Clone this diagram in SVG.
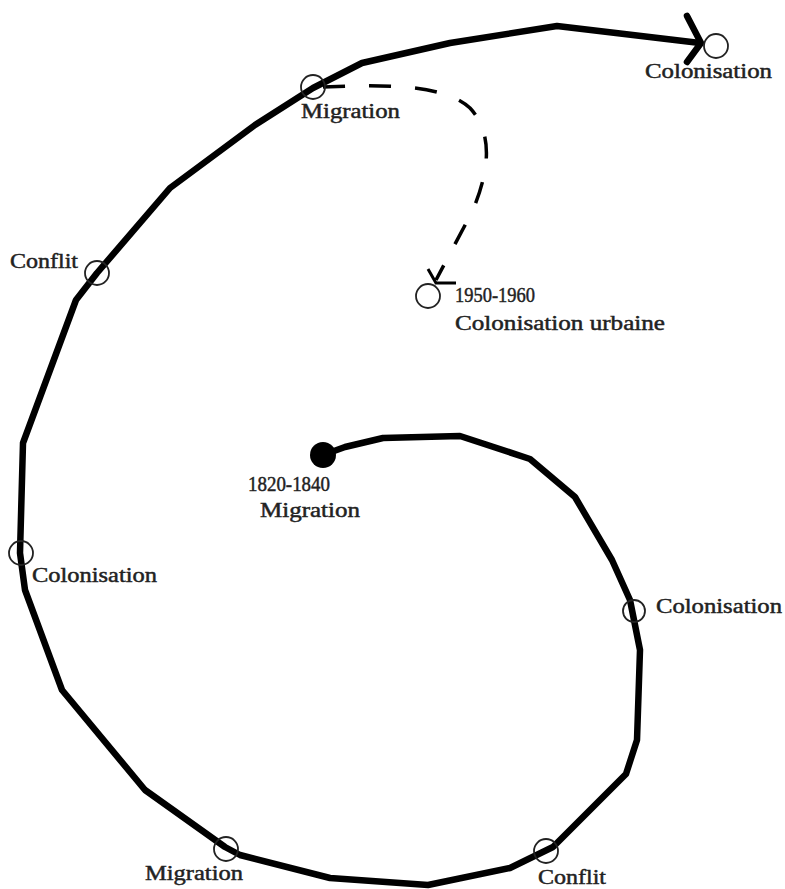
<svg xmlns="http://www.w3.org/2000/svg" width="785" height="889" viewBox="0 0 785 889">
<style>
.spiral{fill:none;stroke:#000;stroke-width:6.5;stroke-linejoin:round;stroke-linecap:round}
.dash{fill:none;stroke:#000;stroke-width:3.5;stroke-dasharray:22 24}
.ring{fill:none;stroke:#222;stroke-width:1.8}
.lbl{font-family:"Liberation Serif","Times New Roman",serif;font-size:20px;fill:#222;stroke:#222;stroke-width:0.45}
</style>
<rect width="785" height="889" fill="#fff"/>
<g id="connectors">
<path class="spiral" d="M323,455 L345,447 L383,438 L460,436 L530,459 L575,497 L612,560 L630,600 L638,640 L640,650 L637,740 L626,774 L553,847 L510,868 L428,885 L330,878 L240,855 L225,847 L145,790 L62,690 L25,590 L20,553 L23,443 L76,300 L97,273 L170,188 L255,125 L313,88 L362,63 L450,43 L557,26 L700,43"/>
<path class="spiral" d="M687,16 L701,43 L687,62"/>
<path class="dash" d="M323,87 C390,84 445,85 470,108 C495,135 488,175 472,212 L436,280"/>
<polyline fill="none" stroke="#000" stroke-width="3" points="428,269 436,283 456,283"/>
</g>
<g id="start"><circle cx="323" cy="455" r="13" fill="#000"/><text class="lbl" x="248" y="491" textLength="82" lengthAdjust="spacingAndGlyphs">1820-1840</text><text class="lbl" x="260" y="517" textLength="100" lengthAdjust="spacingAndGlyphs">Migration</text></g>
<g id="n-colonisation-right"><circle class="ring" cx="634" cy="611" r="11"/><text class="lbl" x="656" y="613" textLength="126" lengthAdjust="spacingAndGlyphs">Colonisation</text></g>
<g id="n-conflit-bottom"><circle class="ring" cx="546" cy="851" r="12"/><text class="lbl" x="538" y="884" textLength="68" lengthAdjust="spacingAndGlyphs">Conflit</text></g>
<g id="n-migration-bottom"><circle class="ring" cx="226" cy="849" r="12"/><text class="lbl" x="145" y="880" textLength="98" lengthAdjust="spacingAndGlyphs">Migration</text></g>
<g id="n-colonisation-left"><circle class="ring" cx="21" cy="553" r="12"/><text class="lbl" x="32" y="582" textLength="125" lengthAdjust="spacingAndGlyphs">Colonisation</text></g>
<g id="n-conflit-left"><circle class="ring" cx="97" cy="273" r="12"/><text class="lbl" x="10" y="268" textLength="68" lengthAdjust="spacingAndGlyphs">Conflit</text></g>
<g id="n-migration-top"><circle class="ring" cx="313" cy="87" r="12"/><text class="lbl" x="301" y="118" textLength="99" lengthAdjust="spacingAndGlyphs">Migration</text></g>
<g id="n-colonisation-top"><circle class="ring" cx="716" cy="46" r="12"/><text class="lbl" x="645" y="78" textLength="127" lengthAdjust="spacingAndGlyphs">Colonisation</text></g>
<g id="n-urbaine"><circle class="ring" cx="428" cy="296" r="12"/><text class="lbl" x="455" y="302" textLength="80" lengthAdjust="spacingAndGlyphs">1950-1960</text><text class="lbl" x="455" y="330" textLength="210" lengthAdjust="spacingAndGlyphs">Colonisation urbaine</text></g>
</svg>
